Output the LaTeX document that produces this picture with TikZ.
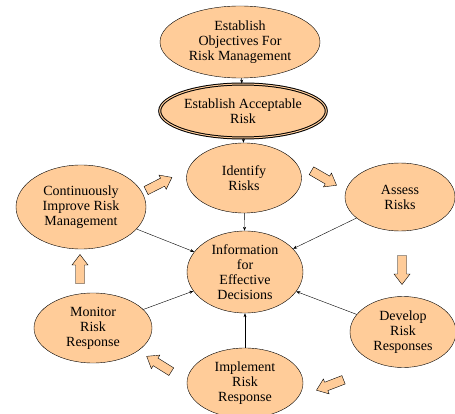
\documentclass[tikz,border=0pt]{standalone}
\usepackage{fontspec}
\setmainfont{Liberation Serif}
\usepackage{tikz}
\usetikzlibrary{arrows.meta}
\usetikzlibrary{shapes.geometric}
\usetikzlibrary{calc,positioning}

\definecolor{peach}{HTML}{FFCC99}

\begin{document}
\begin{tikzpicture}[x=1pt,y=-1pt,>={Stealth[length=4pt,width=3pt]},
    step box/.style={ellipse, draw, fill=peach, inner sep=0pt, align=center,
        font=\fontsize{14}{15}\selectfont},
    fat arrow/.pic={
        \draw[fill=peach, line join=miter]
            (-14.5,-4.5) -- (4,-4.5) -- (4,-8) -- (14.5,0) -- (4,8) -- (4,4.5)
            -- (-14.5,4.5) -- cycle;
        \coordinate (-tip) at (14.5,0);
    }]

    \useasboundingbox (0,0) rectangle (455,414);

    % the steps
    \node[step box, minimum width=160pt, minimum height=72pt] (obj) at (240,42)
        {Establish\\Objectives For\\Risk Management};
    \node[step box, minimum width=150pt, minimum height=54pt, line width=1pt,
        double=peach, double distance=1pt] (accept) at (243,111)
        {Establish Acceptable\\Risk};
    \node[step box, minimum width=115pt, minimum height=70pt] (ident) at (244,178)
        {Identify\\Risks};
    \node[step box, minimum width=110pt, minimum height=68pt] (assess) at (400,197)
        {Assess\\Risks};
    \node[step box, minimum width=130pt, minimum height=84pt] (improve) at (81,207)
        {Continuously\\Improve Risk\\Management};
    \node[step box, minimum width=116pt, minimum height=82pt] (info) at (245,272)
        {Information\\for\\Effective\\Decisions};
    \node[step box, minimum width=106pt, minimum height=71pt] (develop) at (403,332)
        {Develop\\Risk\\Responses};
    \node[step box, minimum width=118pt, minimum height=70pt] (monitor) at (93,328)
        {Monitor\\Risk\\Response};
    \node[step box, minimum width=116pt, minimum height=70pt] (impl) at (245,383)
        {Implement\\Risk\\Response};

    % short links at the top
    \draw[->] (obj) -- (accept);
    \draw[->] (accept) -- (ident);

    % everything feeds the decisions
    \foreach \src in {ident, assess, improve, develop, monitor, impl}
        \draw[->] (\src) -- (info);

    % the cycle
    \pic[rotate=27] (c1) at (159,184) {fat arrow};
    \pic[rotate=-30] (c2) at (324,178) {fat arrow};
    \pic[rotate=-90] (c3) at (402,270) {fat arrow};
    \pic[rotate=201] (c4) at (330,385) {fat arrow};
    \pic[rotate=148] (c5) at (159,364) {fat arrow};
    \pic[rotate=90] (c6) at (80,269) {fat arrow};

\end{tikzpicture}
\end{document}
